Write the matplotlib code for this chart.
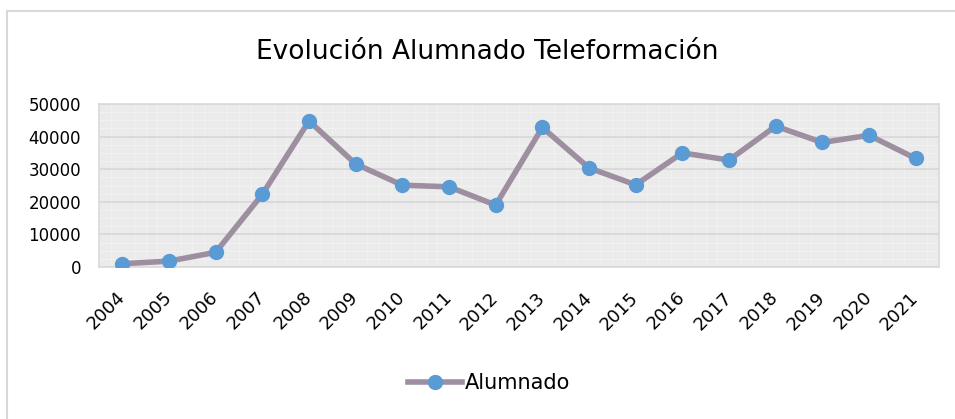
import matplotlib.pyplot as plt
from matplotlib.lines import Line2D

years = [str(y) for y in range(2004, 2022)]
alumnado = [1000, 1800, 4500, 22300, 44800, 31600, 25100, 24600, 19000,
            42800, 30400, 25200, 35000, 32800, 43200, 38200, 40400, 33300]
y_ticks = [0, 10000, 20000, 30000, 40000, 50000]

fig = plt.figure(figsize=(9.55, 4.19), dpi=100)
# chart frame: only top and left edges are inside the picture
fig.lines.append(Line2D([7 / 955, 1], [1 - 11 / 419, 1 - 11 / 419],
                        transform=fig.transFigure, color='#d9d9d9', linewidth=1.5))
fig.lines.append(Line2D([7 / 955, 7 / 955], [0, 1 - 11 / 419],
                        transform=fig.transFigure, color='#d9d9d9', linewidth=1.5))

ax = fig.add_axes([99 / 955, 1 - 267 / 419, 840 / 955, 163 / 419])
ax.set_facecolor('#ebebeb')

x = list(range(len(years)))
ax.plot(x, alumnado, color='#9e8fa0', linewidth=4, marker='o',
        markersize=10, markerfacecolor='#5b9bd5', markeredgecolor='#5b9bd5',
        solid_capstyle='round', label='Alumnado', zorder=3)

ax.set_xlim(-0.5, len(years) - 0.5)
ax.set_ylim(0, 50000)
ax.set_yticks(y_ticks)
ax.set_yticklabels([str(v) for v in y_ticks], fontsize=12)
ax.set_xticks(x)
ax.set_xticklabels(years, rotation=45, ha='right', va='center',
                   rotation_mode='anchor', fontsize=13)
ax.tick_params(axis='y', length=0, pad=13)
ax.tick_params(axis='x', length=0, pad=20)

# fine texture of the plot area
ax.set_xticks([i / 4 - 0.5 for i in range(len(years) * 4 + 1)], minor=True)
ax.set_yticks(range(0, 50001, 2500), minor=True)
ax.grid(which='minor', color='#f3f3f3', linewidth=0.6, zorder=0)
ax.grid(which='major', axis='y', color='#d9d9d9', linewidth=1.3, zorder=1)
ax.grid(which='major', axis='x', visible=False)
ax.tick_params(which='minor', length=0)
for s in ax.spines.values():
    s.set_color('#d9d9d9')
    s.set_linewidth(1.2)

fig.text(0.51, 1 - 52 / 419, 'Evolución Alumnado Teleformación',
         ha='center', va='center', fontsize=19)

handle = Line2D([], [], color='#9e8fa0', linewidth=4, marker='o', markersize=10,
                markerfacecolor='#5b9bd5', markeredgecolor='#5b9bd5')
fig.legend([handle], ['Alumnado'], loc='center', bbox_to_anchor=(0.512, 1 - 383 / 419),
           frameon=False, fontsize=15, handlelength=2.6, handletextpad=0.1)

fig.savefig('out.png', dpi=100)
